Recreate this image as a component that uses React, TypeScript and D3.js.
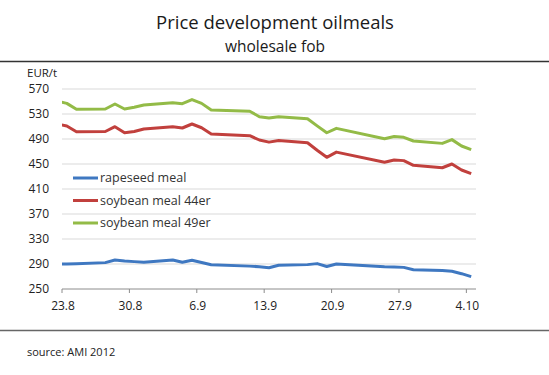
import React from "react";
import * as d3 from "d3";

const dates = ["22.8","23.8","24.8","27.8","28.8","29.8","30.8","31.8","3.9","4.9","5.9","6.9","7.9","11.9","12.9","13.9","14.9","17.9","18.9","19.9","20.9","25.9","26.9","27.9","28.9","1.10","2.10","3.10","4.10"];
const rapeseed = [290,290,290.5,292.2,296.4,294.8,293.8,292.7,296.4,292.7,296,292.3,288.9,286.6,285.7,284,288,289,290.6,286,290,285.7,285.3,284.6,280.9,279.5,278.3,274.5,269.7];
const soy44 = [514,510.8,501.7,502,509.7,500,502,506,509.7,507.6,514,508,498,495.3,488.4,485,487.5,484,472,460.7,469,452.7,456.4,455.4,447.9,444,450,440.4,434.5];
const soy49 = [550.5,547,537.5,538,546,538,540.7,544.4,548,546.5,553,547,536.4,534.5,525.7,523.5,525.7,522.5,511,500,507,490.5,494,492.7,486.8,483,489,478.8,473];
const xTickLabels = ["23.8","30.8","6.9","13.9","20.9","27.9","4.10"];
const yTicks = [250,290,330,370,410,450,490,530,570];
const seriesNames = ["rapeseed meal","soybean meal 44er","soybean meal 49er"];
const seriesColors = ["#3f78c1","#c1403d","#93bb47"];

const parseD = (s: string) => {
  const [d, m] = s.split(".").map(Number);
  return new Date(2012, m - 1, d);
};

export default function App() {
  const W = 549, H = 375;
  const left = 62, right = 476, top = 89, bottom = 289;
  const x = d3.scaleTime().domain([new Date(2012, 7, 23), new Date(2012, 9, 5)]).range([left, right]);
  const y = d3.scaleLinear().domain([250, 570]).range([bottom, top]);
  const font = "'Open Sans', sans-serif";
  const series = [rapeseed, soy44, soy49];
  const line = d3.line<number>()
    .x((_, i) => x(d3.timeHour.offset(parseD(dates[i]), 12)))
    .y((v) => y(v));
  return (
    <svg width={W} height={H} style={{ position: "absolute", left: 0, top: 0, background: "#fff" }} fontFamily={font}>
      <defs>
        <clipPath id="plotclip">
          <rect x={left} y={0} width={right - left} height={H} />
        </clipPath>
      </defs>
      <text x={275} y={29} textAnchor="middle" fontSize={18.5} fill="#1a1a1a">Price development oilmeals</text>
      <text x={275} y={52} textAnchor="middle" fontSize={15.5} fill="#1a1a1a">wholesale fob</text>
      <line x1={0} x2={W} y1={61.5} y2={61.5} stroke="#333" strokeWidth={1.5} />
      <text x={27} y={77} fontSize={11.5} fill="#222">EUR/t</text>
      {yTicks.map((t) => (
        <g key={t}>
          {t !== 250 && <line x1={left} x2={right} y1={y(t)} y2={y(t)} stroke="#d9d9d9" strokeWidth={1} />}
          <text x={49} y={y(t)} dy="0.35em" textAnchor="end" fontSize={12} fill="#222">{t}</text>
        </g>
      ))}
      <line x1={left} x2={right} y1={bottom} y2={bottom} stroke="#8c8c8c" strokeWidth={1} />
      {xTickLabels.map((lab) => {
        const xx = x(parseD(lab));
        return (
          <g key={lab}>
            <line x1={xx} x2={xx} y1={bottom} y2={bottom + 4} stroke="#8c8c8c" strokeWidth={1} />
            <text x={xx + 1} y={310} textAnchor="middle" fontSize={12} fill="#222">{lab}</text>
          </g>
        );
      })}
      <g clipPath="url(#plotclip)">
        {series.map((s, i) => (
          <path key={i} d={line(s) || ""} fill="none" stroke={seriesColors[i]} strokeWidth={3} strokeLinejoin="round" />
        ))}
      </g>
      {seriesNames.map((n, i) => (
        <g key={n}>
          <line x1={73} x2={98} y1={178 + i * 22.5} y2={178 + i * 22.5} stroke={seriesColors[i]} strokeWidth={3} />
          <text x={100} y={178 + i * 22.5} dy="0.35em" fontSize={12.5} fill="#333">{n}</text>
        </g>
      ))}
      <line x1={0} x2={W} y1={330.5} y2={330.5} stroke="#666" strokeWidth={1.5} />
      <text x={27} y={356} fontSize={11} fill="#222">source: AMI 2012</text>
    </svg>
  );
}
